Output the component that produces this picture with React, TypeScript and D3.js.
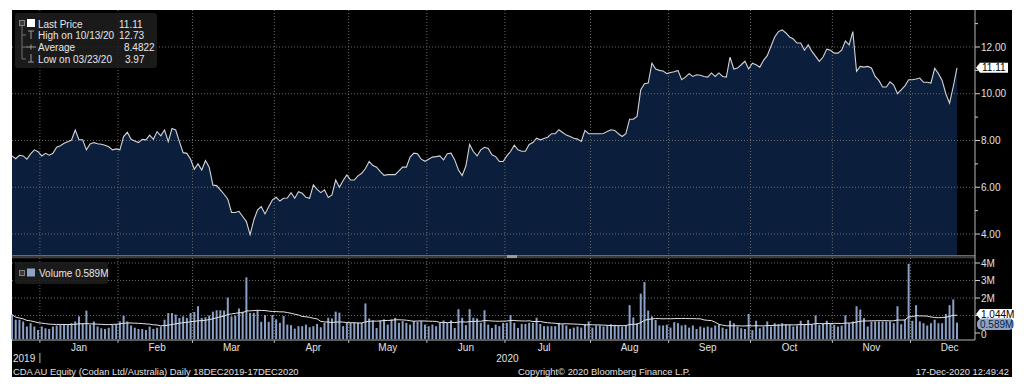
import React from "react";
import * as d3 from "d3";

// ---------- data ----------
const START_DATE = new Date(2019, 11, 18);
const END_DATE = new Date(2020, 11, 18);
const HOLIDAYS = ["2019-12-25", "2019-12-26", "2020-01-01", "2020-01-27", "2020-04-10", "2020-04-13", "2020-06-08"];

const PRICE = [
  7.34, 7.22, 7.37, 7.34, 7.2, 7.43, 7.6, 7.52, 7.34, 7.45,
  7.37, 7.45, 7.71, 7.78, 7.88, 7.95, 8.02, 8.45, 8.03, 8.03,
  7.6, 7.85, 7.91, 7.86, 7.84, 7.8, 7.73, 7.6, 7.64, 7.6,
  8.17, 8.35, 8.05, 7.98, 7.91, 8.05, 8.03, 8.23, 8.05, 8.38,
  8.2, 8.45, 7.95, 8.51, 8.45, 7.95, 7.48, 7.45, 7.2, 6.77,
  7.0, 6.74, 7.14, 6.86, 6.09, 6.07, 5.89, 5.7, 5.49, 4.92,
  4.92, 4.97, 4.75, 4.53, 3.97, 4.6, 5.03, 5.17, 4.86, 5.17,
  5.46, 5.57, 5.41, 5.53, 5.54, 5.77, 5.53, 5.81, 5.74, 5.57,
  5.53, 6.1, 5.91, 5.77, 5.89, 5.56, 5.67, 6.31, 6.0, 6.29,
  6.53, 6.31, 6.31, 6.49, 6.6, 6.8, 7.1, 6.93, 6.86, 6.67,
  6.51, 6.54, 6.54, 6.54, 6.7, 6.86, 6.86, 7.29, 7.46, 7.43,
  7.2, 7.11, 7.2, 7.29, 7.31, 7.34, 7.17, 7.43, 7.46, 7.17,
  6.74, 6.5, 6.91, 7.83, 7.53, 7.34, 7.6, 7.71, 7.66, 7.39,
  7.31, 7.1, 7.1, 7.34, 7.53, 7.8, 7.6, 7.54, 7.54, 7.83,
  7.91, 8.1, 8.03, 8.09, 8.14, 8.29, 8.29, 8.46, 8.34, 8.23,
  8.17, 8.1, 8.06, 7.96, 8.43, 8.29, 8.29, 8.29, 8.29, 8.3,
  8.39, 8.46, 8.43, 8.29, 8.17, 8.29, 8.91, 8.91, 9.03, 10.17,
  10.43, 10.46, 11.31, 11.06, 11.0, 10.97, 10.86, 10.91, 10.94, 11.0,
  10.6, 10.71, 10.86, 10.74, 10.81, 10.79, 10.74, 10.71, 10.89, 10.74,
  10.89, 10.74, 10.71, 11.57, 11.06, 11.1, 11.24, 11.39, 11.06, 11.31,
  11.24, 11.14, 11.43, 11.63, 12.03, 12.43, 12.66, 12.73, 12.6, 12.43,
  12.34, 12.17, 12.17, 11.86, 12.09, 11.81, 11.6, 11.39, 11.57, 11.91,
  11.86, 11.74, 11.74, 11.86, 12.26, 12.09, 12.66, 10.96, 11.17, 11.14,
  11.17, 11.1, 10.74, 10.57, 10.29, 10.29, 10.51, 10.37, 10.0, 10.17,
  10.34, 10.6, 10.6, 10.63, 10.67, 10.49, 10.49, 10.46, 11.09, 10.86,
  10.57, 10.0, 9.6, 10.31, 11.11,
];

// volume in millions
const VOLUME = [
  1.05, 0.76, 0.76, 0.66, 0.37, 0.56, 0.37, 0.17, 0.37, 0.27,
  0.23, 0.37, 0.43, 0.47, 0.47, 0.47, 0.56, 0.66, 0.95, 0.56,
  1.28, 0.47, 0.66, 0.37, 0.27, 0.23, 0.3, 0.47, 0.5, 0.66,
  0.99, 0.66, 0.43, 0.3, 0.23, 0.23, 0.17, 0.37, 0.23, 0.3,
  0.37, 0.76, 1.14, 1.14, 1.05, 0.86, 0.95, 0.86, 1.14, 1.2,
  1.53, 0.86, 0.9, 1.0, 1.22, 1.3, 1.3, 1.28, 2.02, 0.95,
  1.0, 1.4, 1.22, 3.18, 1.15, 1.15, 1.3, 0.64, 1.03, 0.64,
  1.03, 0.78, 0.58, 0.97, 0.48, 0.45, 0.25, 0.39, 0.39, 0.48,
  0.33, 0.39, 0.52, 0.33, 0.58, 0.87, 0.83, 1.22, 1.16, 0.39,
  0.58, 0.58, 0.58, 0.58, 0.58, 1.69, 0.83, 0.72, 0.29, 0.72,
  0.78, 0.48, 0.78, 0.87, 0.58, 0.68, 0.58, 0.48, 0.68, 0.64,
  0.68, 0.48, 0.39, 0.48, 0.39, 0.58, 0.72, 0.58, 0.72, 0.29,
  1.36, 0.87, 0.45, 1.36, 0.87, 0.83, 0.58, 1.3, 0.48, 0.29,
  0.48, 0.39, 0.58, 0.58, 1.03, 0.58, 0.29, 0.52, 0.52, 0.58,
  0.58, 0.87, 0.52, 0.39, 0.39, 0.39, 0.39, 0.58, 0.5, 0.43,
  0.24, 0.31, 0.37, 0.31, 0.5, 0.66, 0.31, 0.43, 0.43, 0.37,
  0.43, 0.5, 0.47, 0.43, 0.37, 0.43, 1.59, 0.89, 0.56, 2.25,
  2.91, 1.28, 0.95, 0.74, 0.43, 0.43, 0.47, 0.31, 0.62, 0.56,
  0.43, 0.47, 0.31, 0.43, 0.23, 0.37, 0.31, 0.37, 0.31, 0.43,
  0.47, 0.31, 0.23, 0.7, 0.56, 0.37, 0.27, 0.23, 1.09, 0.17,
  0.7, 0.27, 0.37, 0.66, 0.37, 0.56, 0.5, 0.56, 0.5, 0.47,
  0.37, 0.43, 0.7, 0.5, 0.74, 0.5, 1.01, 0.47, 0.56, 0.7,
  0.56, 0.47, 0.37, 0.43, 1.01, 0.56, 0.66, 1.53, 1.34, 0.85,
  0.37, 0.66, 0.66, 0.66, 0.66, 0.66, 0.66, 0.56, 1.53, 0.5,
  0.76, 3.95, 0.7, 1.59, 0.66, 0.56, 0.43, 0.56, 0.76, 0.56,
  0.56, 1.09, 1.59, 1.92, 0.589,
];

const MA_WINDOW = 20;
const PRICE_TICKS = [4, 6, 8, 10, 12];
const PRICE_MINOR = [5, 7, 9, 11, 13];
const VOL_TICKS = [1, 2, 3, 4];
const VOL_LABELS = ["", "2M", "3M", "4M"];
const MONTHS = ["Jan", "Feb", "Mar", "Apr", "May", "Jun", "Jul", "Aug", "Sep", "Oct", "Nov", "Dec"];
const LEGEND_LABELS = ["Last Price", "High on 10/13/20", "Average", "Low on 03/23/20"];
const LEGEND_VALUES = ["11.11", "12.73", "8.4822", "3.97"];
const LAST_PRICE = 11.11;
const LAST_PRICE_TAG = "11.11";
const VOL_MA_TAG = "1.044M";
const VOL_LAST_TAG = "0.589M";
const VOL_LEGEND = "Volume 0.589M";
const FOOTER_LEFT = "CDA AU Equity (Codan Ltd/Australia)  Daily 18DEC2019-17DEC2020";
const FOOTER_MID = "Copyright\u00A9 2020 Bloomberg Finance L.P.";
const FOOTER_RIGHT = "17-Dec-2020 12:49:42";

// ---------- helpers ----------
const fmtDay = d3.timeFormat("%Y-%m-%d");
const TRADING_DAYS = d3
  .timeDay.range(START_DATE, END_DATE)
  .filter((d) => d.getDay() !== 0 && d.getDay() !== 6 && !HOLIDAYS.includes(fmtDay(d)));

const FONT = "'Liberation Sans', Arial, sans-serif";

export default function App() {
  const L = 12, R = 975, T = 10;
  const priceBottom = 255;
  const volTop = 258, volBottom = 339;
  const n = PRICE.length;

  const x = d3.scaleLinear().domain([0, n - 1]).range([12, 957]);
  const step = x(1) - x(0);
  const yP = d3.scaleLinear().domain([4, 12]).range([234, 47]);
  const yV = d3.scaleLinear().domain([0, 4]).range([333, 263]);

  const area = d3.area<number>().x((_, i) => x(i)).y0(priceBottom).y1((d) => yP(d))(PRICE) || "";
  const line = d3.line<number>().x((_, i) => x(i)).y((d) => yP(d))(PRICE) || "";

  const ma = VOLUME.map((_, i) => d3.mean(VOLUME.slice(Math.max(0, i - MA_WINDOW + 1), i + 1)) as number);
  const maLine = d3.line<number>().x((_, i) => x(i)).y((d) => yV(d))(ma) || "";

  // month boundaries from trading calendar
  const monthStarts: number[] = [];
  const dates = TRADING_DAYS.slice(0, n);
  for (let i = 1; i < dates.length; i++) {
    if (dates[i].getMonth() !== dates[i - 1].getMonth()) monthStarts.push(i);
  }
  const boundaryX = monthStarts.map((i) => (x(i - 1) + x(i)) / 2);

  const grid = "#6a6a6a";
  const dash = "1 2";
  const yLast = yP(LAST_PRICE);

  return (
    <div style={{ position: "absolute", left: 0, top: 0 }}>
      <svg width={1024} height={392} style={{ display: "block", background: "#fff" }} fontFamily={FONT}>
        <rect x={12} y={10} width={1000} height={367} fill="#000" />

        {/* price area */}
        <path d={area} fill="#0b1e3b" />

        {/* price gridlines */}
        {PRICE_TICKS.map((t) => (
          <line key={"pg" + t} x1={L} x2={R} y1={yP(t)} y2={yP(t)} stroke={grid} strokeDasharray={dash} strokeWidth={1} />
        ))}
        {boundaryX.map((bx, k) => (
          <line key={"vg" + k} x1={bx} x2={bx} y1={T} y2={priceBottom} stroke={grid} strokeDasharray={dash} strokeWidth={1} />
        ))}
        <path d={line} fill="none" stroke="#d2d4d8" strokeWidth={1.1} />

        {/* panel separator */}
        <rect x={L} y={255} width={R - L} height={1.5} fill="#6a6a6a" />
        <rect x={L} y={256.5} width={R - L} height={1.8} fill="#3c3c3c" />
        <rect x={507} y={255} width={10} height={3} fill="#9a9a9a" />

        {/* volume gridlines */}
        {VOL_TICKS.map((t) => (
          <line key={"vgl" + t} x1={L} x2={R} y1={yV(t)} y2={yV(t)} stroke={grid} strokeDasharray={dash} strokeWidth={1} />
        ))}
        {boundaryX.map((bx, k) => (
          <line key={"vvg" + k} x1={bx} x2={bx} y1={volTop} y2={volBottom} stroke={grid} strokeDasharray={dash} strokeWidth={1} />
        ))}

        {/* volume bars */}
        {VOLUME.map((v, i) => (
          <rect key={"b" + i} x={x(i) - 1} y={yV(v)} width={2} height={volBottom - yV(v)} fill="#8aa0c6" />
        ))}
        <path d={maLine} fill="none" stroke="#e6e6e6" strokeWidth={1} />

        {/* axes */}
        <line x1={R} x2={R} y1={T} y2={volBottom + 1} stroke="#b8b8b8" strokeWidth={1} />
        <line x1={L} x2={R} y1={volBottom + 1} y2={volBottom + 1} stroke="#b8b8b8" strokeWidth={1} />
        {PRICE_TICKS.map((t) => (
          <g key={"pt" + t}>
            <line x1={R} x2={R + 5} y1={yP(t)} y2={yP(t)} stroke="#d0d0d0" />
            <text x={R + 6} y={yP(t) + 3.5} fontSize={10} fill="#e0e0e0">{t.toFixed(2)}</text>
          </g>
        ))}
        {PRICE_MINOR.map((t) => (
          <line key={"pm" + t} x1={R} x2={R + 3} y1={yP(t)} y2={yP(t)} stroke="#d0d0d0" />
        ))}
        {VOL_TICKS.map((t, k) => (
          <g key={"vt" + t}>
            <line x1={R} x2={R + 5} y1={yV(t)} y2={yV(t)} stroke="#d0d0d0" />
            {VOL_LABELS[k] && (
              <text x={R + 6} y={yV(t) + 3.5} fontSize={10} fill="#e0e0e0">{VOL_LABELS[k]}</text>
            )}
          </g>
        ))}
        <line x1={R} x2={R + 5} y1={yV(0)} y2={yV(0)} stroke="#d0d0d0" />
        <text x={R + 6} y={yV(0) + 5} fontSize={10} fill="#e0e0e0">0</text>

        {/* x axis */}
        {boundaryX.map((bx, k) => (
          <g key={"mx" + k}>
            <line x1={bx} x2={bx} y1={volBottom + 1} y2={volBottom + 4} stroke="#b8b8b8" />
            <text x={bx + 10.5 * step} y={351} fontSize={10} fill="#e0e0e0" textAnchor="middle">{MONTHS[k]}</text>
          </g>
        ))}
        <text x={13} y={362} fontSize={10} fill="#e0e0e0">2019</text>
        <line x1={boundaryX[0]} x2={boundaryX[0]} y1={353} y2={363} stroke="#b8b8b8" />
        <text x={(boundaryX[0] + R) / 2} y={362} fontSize={10} fill="#e0e0e0" textAnchor="middle">2020</text>

        {/* footer */}
        <text x={13} y={375} fontSize={9.4} fill="#e0e0e0">{FOOTER_LEFT}</text>
        <text x={518} y={375} fontSize={9.4} fill="#e0e0e0">{FOOTER_MID}</text>
        <text x={1009} y={375} fontSize={9.4} fill="#e0e0e0" textAnchor="end">{FOOTER_RIGHT}</text>

        {/* right tags */}
        <path d={`M${R + 1},${yLast} L${R + 5},${yLast - 5} H1008 V${yLast + 5} H${R + 5} Z`} fill="#fff" />
        <text x={R + 7} y={yLast + 3.5} fontSize={10} fill="#000">{LAST_PRICE_TAG}</text>
        <path d={`M${R + 1},314 L${R + 5},309 H1013 V319 H${R + 5} Z`} fill="#fff" />
        <text x={R + 6} y={317.5} fontSize={10} fill="#000">{VOL_MA_TAG}</text>
        <rect x={R + 2} y={318.5} width={37} height={11.5} rx={5} fill="#8ea3c5" />
        <text x={R + 5} y={327.8} fontSize={10} fill="#0b1e3b">{VOL_LAST_TAG}</text>

        {/* price legend */}
        <rect x={15} y={13} width={142} height={55} rx={3} fill="#1e1e1e" opacity={0.85} />
        <rect x={19.5} y={20.5} width={5} height={5} fill="#3a3a3a" stroke="#808080" strokeWidth={1} />
        <rect x={27} y={19} width={8} height={8} fill="#ffffff" />
        <line x1={22} x2={22} y1={26} y2={59} stroke="#707070" />
        {[35, 47, 59].map((yy) => (
          <line key={"br" + yy} x1={22} x2={26} y1={yy} y2={yy} stroke="#707070" />
        ))}
        <line x1={28} x2={34} y1={31} y2={31} stroke="#9a9a9a" />
        <line x1={31} x2={31} y1={31} y2={39} stroke="#9a9a9a" />
        <line x1={26} x2={36} y1={47} y2={47} stroke="#9a9a9a" />
        <line x1={31} x2={31} y1={44.5} y2={49.5} stroke="#9a9a9a" />
        <line x1={31} x2={31} y1={54} y2={62} stroke="#9a9a9a" />
        <line x1={28} x2={34} y1={62} y2={62} stroke="#9a9a9a" />
        {LEGEND_LABELS.map((lab, k) => (
          <text key={"ll" + k} x={38} y={27.5 + k * 11.7} fontSize={10} fill="#e6e6e6">{lab}</text>
        ))}
        {LEGEND_VALUES.map((v, k) => (
          <text key={"lv" + k} x={[119, 119, 124, 125][k]} y={27.5 + k * 11.7} fontSize={10} fill="#e6e6e6">{v}</text>
        ))}

        {/* volume legend */}
        <rect x={15} y={262} width={93} height={22} rx={3} fill="#1e1e1e" opacity={0.85} />
        <rect x={19.5} y={270.5} width={5} height={5} fill="#3a3a3a" stroke="#808080" strokeWidth={1} />
        <rect x={27} y={268.5} width={8} height={8} fill="#8ea3c5" />
        <text x={39} y={277} fontSize={10} fill="#e6e6e6">{VOL_LEGEND}</text>
      </svg>
    </div>
  );
}
